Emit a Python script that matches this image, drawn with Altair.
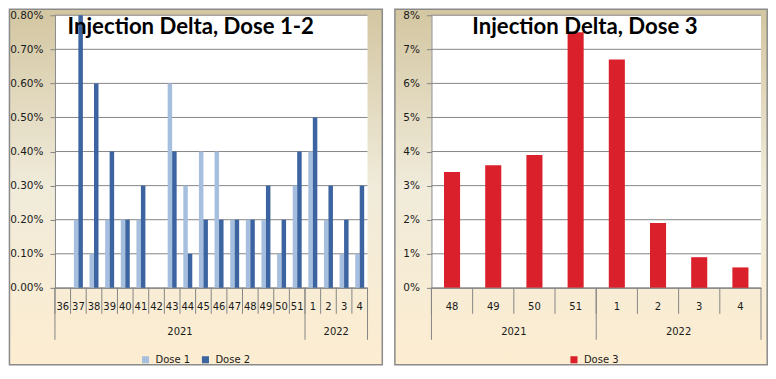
import altair as alt
import pandas as pd

# ---------------- data ----------------
weeks_L = ["36", "37", "38", "39", "40", "41", "42", "43", "44", "45",
           "46", "47", "48", "49", "50", "51", "1", "2", "3", "4"]
years_L = ["2021"] * 16 + ["2022"] * 4
dose1 = [0.0, 0.2, 0.1, 0.2, 0.2, 0.2, 0.0, 0.6, 0.3, 0.4,
         0.4, 0.2, 0.2, 0.2, 0.1, 0.3, 0.4, 0.2, 0.1, 0.1]   # percent
dose2 = [0.0, 0.8, 0.6, 0.4, 0.2, 0.3, 0.0, 0.4, 0.1, 0.2,
         0.2, 0.2, 0.2, 0.3, 0.2, 0.4, 0.5, 0.3, 0.2, 0.3]   # percent
ticks_L = [0.0, 0.1, 0.2, 0.3, 0.4, 0.5, 0.6, 0.7, 0.8]      # percent

weeks_R = ["48", "49", "50", "51", "1", "2", "3", "4"]
years_R = ["2021"] * 4 + ["2022"] * 4
dose3 = [3.4, 3.6, 3.9, 7.5, 6.7, 1.9, 0.9, 0.6]             # percent
ticks_R = [0, 1, 2, 3, 4, 5, 6, 7, 8]                          # percent

title_L = "Injection Delta, Dose 1-2"
title_R = "Injection Delta, Dose 3"

# ---------------- style ----------------
H = 273
GRAY = "#868686"
TXT = "#1a1a1a"
FONT = "DejaVu Sans"
BG = alt.LinearGradient(
    gradient="linear", x1=0, y1=0, x2=0, y2=1,
    stops=[alt.GradientStop(color="#D3C6A1", offset=0),
           alt.GradientStop(color="#F0EBDA", offset=0.5),
           alt.GradientStop(color="#FDEDD1", offset=1)],
)


def panel(weeks, years, series, ticks, fmt, W, title, title_dx,
          legend_x, rx1, rx2, bar_width=None):
    cat = pd.DataFrame({"week": weeks, "year": years})
    rows = []
    for name, vals, _ in series:
        for w, y, v in zip(weeks, years, vals):
            rows.append({"week": w, "year": y, "series": name, "value": v / 100})
    bars_df = pd.DataFrame(rows)
    names = [s[0] for s in series]
    colors = [s[2] for s in series]

    xscale = alt.Scale(domain=weeks, paddingInner=0, paddingOuter=0)
    xaxis = alt.Axis(title=None, ticks=False, domain=True, domainColor=GRAY,
                     labelFont=FONT, labelFontSize=10, labelColor=TXT,
                     labelBaseline="middle", labelPadding=18.5, labelAngle=0,
                     labelOverlap=False, zindex=1)
    yscale = alt.Scale(domain=[0, ticks[-1] / 100], nice=False, zero=True)
    yaxis = alt.Axis(title=None, values=[t / 100 for t in ticks], format=fmt,
                     grid=False, tickColor=GRAY, tickSize=5, domainColor=GRAY,
                     labelFont=FONT, labelFontSize=10.5, labelColor=TXT,
                     labelPadding=7, zindex=1)

    def X(**kw):
        return alt.X("week:N", scale=xscale, axis=xaxis, sort=weeks, **kw)

    one = pd.DataFrame({"k": [0]})
    bg = alt.Chart(one).mark_rect(color=BG, stroke="#8a8a8a", strokeWidth=1.5).encode(
        x=alt.value(rx1), x2=alt.value(W + rx2),
        y=alt.value(-6.0), y2=alt.value(H + 77))
    plotbg = alt.Chart(one).mark_rect(color="white").encode(
        x=alt.value(0), x2=alt.value(W), y=alt.value(0), y2=alt.value(H))

    grid = alt.Chart(pd.DataFrame({"v": [t / 100 for t in ticks]})).mark_rule(
        color=GRAY, strokeWidth=1).encode(
        y=alt.Y("v:Q", scale=yscale, axis=yaxis),
        x=alt.value(0), x2=alt.value(W))

    legend = alt.Legend(title=None, orient="none", legendX=legend_x, legendY=340,
                        direction="horizontal", symbolType="square", symbolSize=50,
                        symbolStrokeWidth=0, labelFont=FONT, labelFontSize=10,
                        labelColor=TXT, columnPadding=10, labelOffset=5)
    color = alt.Color("series:N", scale=alt.Scale(domain=names, range=colors),
                      legend=legend)
    if len(series) > 1:
        bars = alt.Chart(bars_df).mark_bar().encode(
            x=X(),
            xOffset=alt.XOffset("series:N", sort=names,
                                scale=alt.Scale(domain=names, paddingInner=0,
                                                paddingOuter=0.74)),
            y=alt.Y("value:Q", scale=yscale, axis=yaxis),
            color=color)
    else:
        bars = alt.Chart(bars_df).mark_bar(width=alt.RelativeBandSize(bar_width)).encode(
            x=X(),
            y=alt.Y("value:Q", scale=yscale, axis=yaxis),
            color=color)

    seps = alt.Chart(cat).mark_rule(color=GRAY, strokeWidth=1).encode(
        x=X(bandPosition=0), y=alt.value(H), y2=alt.value(H + 26))
    first_of_year = cat.groupby("year", sort=False).head(1)
    long_seps = alt.Chart(first_of_year).mark_rule(color=GRAY, strokeWidth=1).encode(
        x=X(bandPosition=0), y=alt.value(H), y2=alt.value(H + 52))
    end_sep = alt.Chart(cat.tail(1)).mark_rule(color=GRAY, strokeWidth=1).encode(
        x=X(bandPosition=1), y=alt.value(H), y2=alt.value(H + 52))

    year_lbl = alt.Chart(cat).transform_window(
        idx="row_number()", groupby=["year"]
    ).transform_joinaggregate(
        n="count()", groupby=["year"]
    ).transform_filter(
        "datum.idx == floor(datum.n / 2) + 1"
    ).mark_text(font=FONT, fontSize=10, color=TXT, baseline="middle").encode(
        x=X(bandPosition=0), y=alt.value(H + 44), text="year:N")

    title_mark = alt.Chart(pd.DataFrame({"t": [title]})).mark_text(
        font="Lato", fontSize=22.2, fontWeight="bold", color="black",
        align="center", baseline="alphabetic").encode(
        x=alt.value(W / 2 + title_dx), y=alt.value(18.5), text="t:N")

    return alt.layer(bg, plotbg, grid, bars, seps, long_seps, end_sep, year_lbl,
                     title_mark).properties(width=W, height=H)


left = panel(weeks_L, years_L,
             [("Dose 1", dose1, "#A7BFDE"), ("Dose 2", dose2, "#3B64A0")],
             ticks_L, ".2%", 313, title_L, -20.5,
             85.7, -45.55, 14.8)
right = panel(weeks_R, years_R,
              [("Dose 3", dose3, "#DA202A")],
              ticks_R, ".0%", 330, title_R, -11.3,
              137.7, -36.6, 6.2, bar_width=0.39)

chart = alt.hconcat(left, right, spacing=10).resolve_scale(
    color="independent"
).resolve_legend(color="independent").properties(
    padding=0, background="white"
).configure_view(stroke=None)

chart.save("out.html", embed_options={"renderer": "svg", "actions": False})
